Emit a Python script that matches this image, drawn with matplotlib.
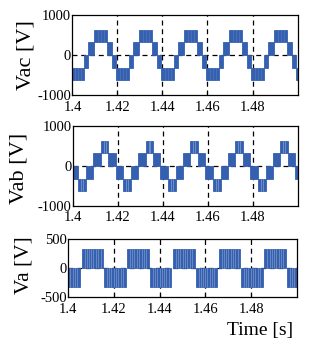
import matplotlib
matplotlib.use("Agg")
import matplotlib.pyplot as plt

plt.rcParams['font.family'] = ['Liberation Serif', 'DejaVu Serif']

WAVE_COLOR = '#3560b0'

# time window and start of each 50 Hz cycle [s]
t_min, t_max = 1.4, 1.5
cycle_starts = [1.38, 1.40, 1.42, 1.44, 1.46, 1.48, 1.50]
x_ticks = [1.4, 1.42, 1.44, 1.46, 1.48]
x_ticklabels = ['1.4', '1.42', '1.44', '1.46', '1.48']
grid_times = [1.42, 1.44, 1.46, 1.48]

# Vac: PWM bands within one cycle, edges [ms] and band limits [V]
vac_edges_ms = [-0.8, 5.0, 7.0, 9.4, 15.2, 17.4, 19.2]
vac_low = [-620, -320, 0, 320, 0, -320]
vac_high = [-320, 0, 320, 620, 320, 0]
vac_gaps = {0: [0.3, 0.55, 0.8], 3: [0.3, 0.55, 0.8]}

# Vab: PWM bands within one cycle
vab_edges_ms = [2.25, 5.75, 9.0, 12.3, 15.6, 18.9, 22.25]
vab_low = [-620, -320, 0, 320, 0, -320]
vab_high = [-320, 0, 320, 620, 320, 0]
vab_gaps = {0: [0.4, 0.65], 3: [0.4, 0.65]}

# Va: positive and negative pulse trains within one cycle
va_edges_ms = [5.8, 15.3, 15.7, 25.1]
va_low = [0, 0, -335]
va_high = [335, 0, 0]
va_gaps = {0: [0.14, 0.24, 0.33, 0.45, 0.55, 0.66, 0.77, 0.88],
           2: [0.14, 0.24, 0.33, 0.45, 0.55, 0.66, 0.77, 0.88]}


def draw_wave(ax, edges_ms, lows, highs, gaps, gap_alpha):
    for c0 in cycle_starts:
        for i in range(len(lows)):
            a = c0 + edges_ms[i] / 1000.0
            b = c0 + edges_ms[i + 1] / 1000.0
            if highs[i] == lows[i]:
                continue
            ax.bar(a, highs[i] - lows[i], width=b - a, bottom=lows[i],
                   align='edge', color=WAVE_COLOR, edgecolor=WAVE_COLOR,
                   linewidth=0.6, zorder=2)
            for f in gaps.get(i, []):
                ax.vlines(a + f * (b - a), lows[i], highs[i], colors='white',
                          linewidth=0.45, alpha=gap_alpha, zorder=2.5)


def style_axes(ax, ylim, yticks, yticklabels):
    ax.set_xlim(t_min, t_max)
    ax.set_ylim(*ylim)
    ax.set_xticks(x_ticks)
    ax.set_xticklabels(x_ticklabels)
    ax.set_yticks(yticks)
    ax.set_yticklabels(yticklabels)
    ax.tick_params(axis='x', direction='in', length=3, width=0.8,
                   labelsize=10.5, pad=4)
    ax.tick_params(axis='y', direction='in', length=0, labelsize=10.5, pad=1)
    for s in ax.spines.values():
        s.set_linewidth(0.9)
    for t in grid_times:
        ax.axvline(t, color='black', linewidth=0.9, linestyle=(0, (4, 3)), zorder=1)
    ax.axhline(0, color='black', linewidth=0.9, linestyle=(0, (4, 3)), zorder=1)


fig = plt.figure(figsize=(3.22, 3.47), dpi=100)

ax1 = fig.add_axes([0.225, 0.7262, 0.699, 0.2314])
draw_wave(ax1, vac_edges_ms, vac_low, vac_high, vac_gaps, 0.15)
style_axes(ax1, (-1000, 1000), [-1000, 0, 1000], ['-1000', '0', '1000'])

ax2 = fig.add_axes([0.227, 0.4072, 0.697, 0.2297])
draw_wave(ax2, vab_edges_ms, vab_low, vab_high, vab_gaps, 0.45)
style_axes(ax2, (-1000, 1000), [-1000, 0, 1000], ['-1000', '0', '1000'])

ax3 = fig.add_axes([0.2121, 0.1441, 0.7096, 0.1671])
draw_wave(ax3, va_edges_ms, va_low, va_high, va_gaps, 0.4)
style_axes(ax3, (-500, 500), [-500, 0, 500], ['-500', '0', '500'])

fig.text(26 / 322, 1 - 55 / 347, 'Vac [V]', rotation=90, ha='center', va='center', fontsize=16)
fig.text(19 / 322, 1 - 168 / 347, 'Vab [V]', rotation=90, ha='center', va='center', fontsize=16)
fig.text(23.5 / 322, 1 - 265 / 347, 'Va [V]', rotation=90, ha='center', va='center', fontsize=15.5)
fig.text(293 / 322, 1 - 335 / 347, 'Time [s]', ha='right', va='baseline', fontsize=14)

fig.savefig('out.png', dpi=100)
